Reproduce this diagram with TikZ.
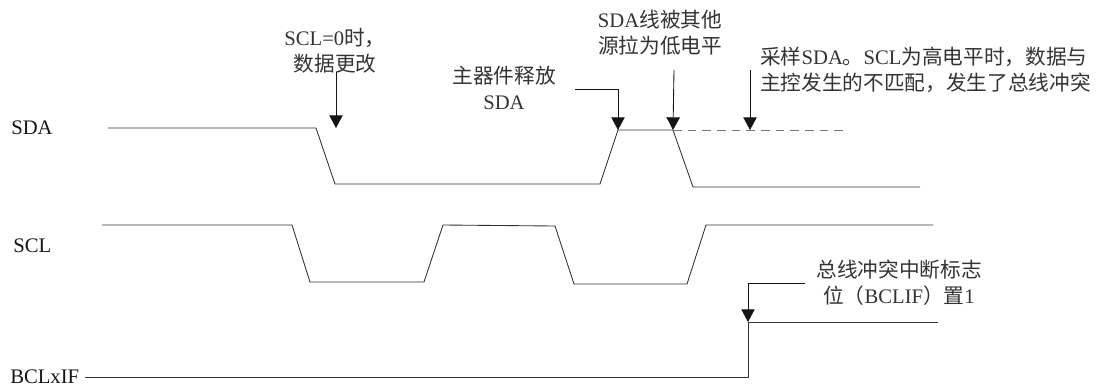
\documentclass[tikz,border=0pt]{standalone}
\usepackage{fontspec}
\setmainfont{Liberation Serif}
\newfontfamily\cjk{Noto Sans CJK SC}
\newcommand{\zh}[1]{{\cjk #1}}
\usetikzlibrary{arrows.meta,positioning,calc}
\definecolor{ink}{HTML}{151515}
\definecolor{ink2}{HTML}{333333}
\definecolor{dashg}{HTML}{777777}

\begin{document}
\begin{tikzpicture}[x=0.75pt, y=-0.75pt,
  font=\fontsize{15.5}{19.5}\selectfont, >={Triangle[length=9.5pt,width=10pt]},
  wave/.style={draw=ink2, line width=0.65pt},
  sig/.style={anchor=west, inner sep=0pt, text=ink},
  note/.style={align=center, inner sep=0pt, text=ink2},
  arr/.style={->, draw=ink, line width=0.65pt},
  samp/.style={draw=dashg, dash pattern=on 6.5pt off 4.5pt, line width=0.7pt}
]
\useasboundingbox (0,0) rectangle (1104,387);
% ---------------- signal names
\node[sig] (sda) at (11,128) {SDA};
\node[sig] (scl) at (13,246) {SCL};
\node[sig] (bcl) at (10,377) {BCLxIF};
% ---------------- waveforms
\coordinate (a0) at (108,128);
\coordinate (a1) at (316,128);
\coordinate (a2) at (335,184);
\coordinate (a3) at (600,184);
\coordinate (a4) at (618,130);
\coordinate (a5) at (673,130);
\coordinate (a6) at (693,187);
\coordinate (a7) at (920,187);
\coordinate (a8) at (845,130);
\draw[wave] (a0) -- (a1) -- (a2) -- (a3) -- (a4) -- (a5) -- (a6) -- (a7);
\draw[samp] (a5) -- (a8);
\draw[wave] (102,225) -- (292,225) -- (310,282) -- (424,282) -- (443,225) -- (555,226)
  -- (574,284) -- (687,284) -- (706,225) -- (933,225);
\coordinate (b0) at (bcl.east);
\coordinate (b1) at (748,377);
\coordinate (b2) at (748,322);
\coordinate (b3) at (938,322);
\draw[wave] ([xshift=4pt]b0) -- (b1) -- (b2) -- (b3);
% ---------------- notes
\node[note] (chg) at (335,51) {SCL=0\zh{时，}\\\zh{数据更改}};
\node[note] (rel) at (504,88) {\zh{主器件释放}\\SDA};
\node[note] (pull) at (660,33) {SDA\zh{线被其他}\\\zh{源拉为低电平}};
\node[note, align=left, anchor=west] (smp) at (760,70) {\zh{采样}SDA\zh{。}SCL\zh{为高电平时，数据与}\\\zh{主控发生的不匹配，发生了总线冲突}};
\node[note] (flag) at (899,283) {\zh{总线冲突中断标志}\\\zh{位（}BCLIF\zh{）置}1};
% ---------------- arrows
\coordinate (s1) at (336,72);
\coordinate (t1) at (336,128);
\coordinate (s2) at (575,89);
\coordinate (s3) at (674,70);
\coordinate (s4) at (750,70);
\coordinate (t4) at (750,130);
\coordinate (s5) at (805,283);
\draw[arr] (s1) -- (t1);
\draw[arr] (s2) -| (a4);
\draw[arr] (s3) -- (a5);
\draw[arr] (s4) -- (t4);
\draw[arr] (s5) -| (b2);
\end{tikzpicture}
\end{document}
